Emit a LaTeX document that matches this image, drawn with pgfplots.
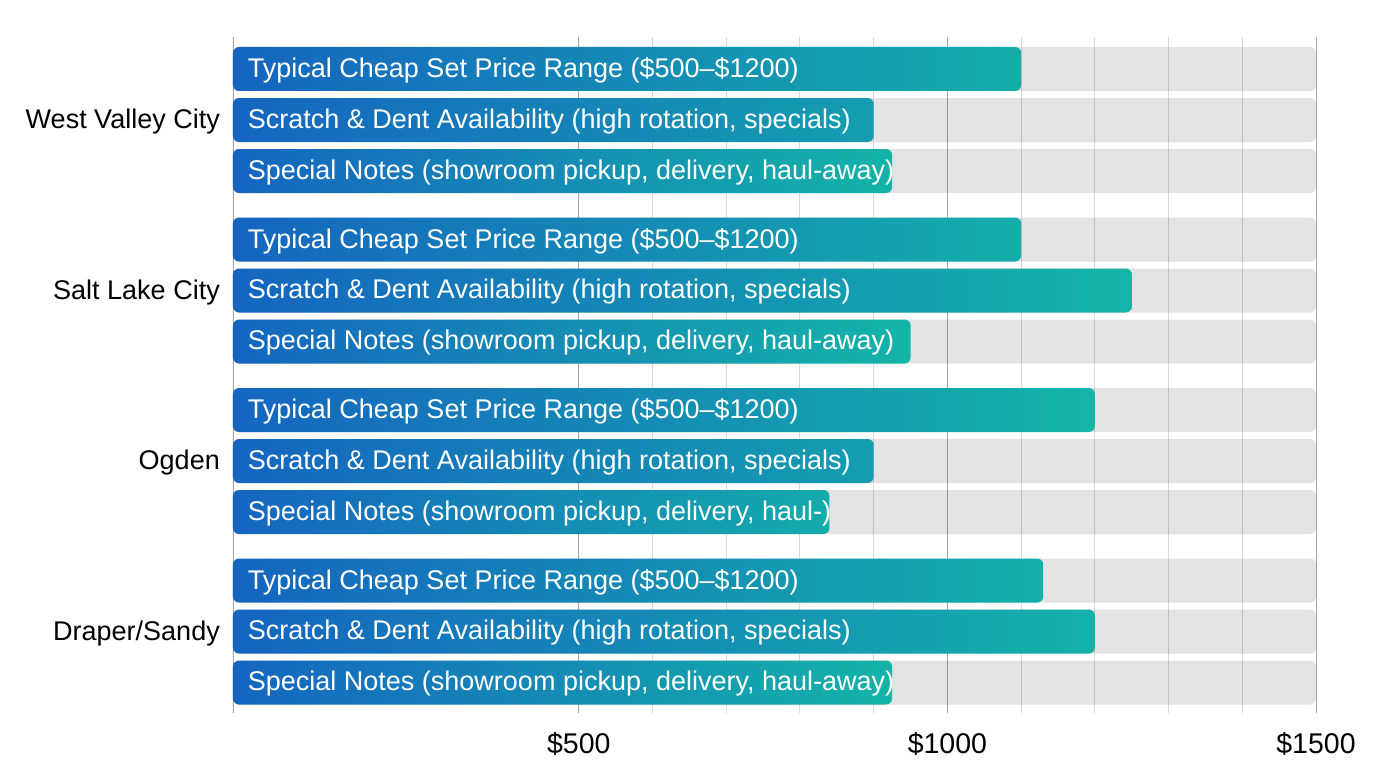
\documentclass[border=0pt]{standalone}
\usepackage{pgfplots}
\pgfplotsset{compat=1.18}
\usepackage{pgfplotstable}
\usepackage{fontspec}
\setmainfont{Liberation Sans}

\definecolor{barblue}{HTML}{1565C0}
\definecolor{barteal}{HTML}{14B5A8}

% y = bar centre (top to bottom), val = bar length in dollars
\pgfplotstableread{
y     val
69    1100
239.5 1100
410   1200
580.5 1130
}\typicaldata
\pgfplotstableread{
y     val
120   900
290.5 1250
461   900
631.5 1200
}\scratchdata
\pgfplotstableread{
y     val
171   925
341.5 950
512   840
682.5 925
}\notesdata

\begin{document}
\begin{tikzpicture}
\useasboundingbox (-233bp,-55bp) rectangle (1143bp,713bp);
\begin{axis}[
    at={(0,0)}, anchor=south west,
    scale only axis,
    width=1083bp, height=676bp,
    xmin=31, xmax=1500,
    ymin=37, ymax=713,
    y dir=reverse,
    axis line style={draw=none},
    major tick length=0pt, minor tick length=0pt,
    xtick={500,1000,1500},
    xticklabels={\$500,\$1000,\$1500},
    minor xtick={600,700,800,900,1100,1200,1300,1400},
    xmajorgrids=true, xminorgrids=true,
    major grid style={gray!70, line width=0.9pt},
    minor grid style={gray!30, line width=0.9pt},
    ytick={120,290.5,461,631.5},
    yticklabels={West Valley City,Salt Lake City,Ogden,Draper/Sandy},
    yticklabel style={font=\fontsize{27bp}{32bp}\selectfont, text=black,
        inner xsep=0pt, xshift=-13bp, yshift=-2bp},
    xticklabel style={font=\fontsize{28.5bp}{33bp}\selectfont, text=black,
        inner ysep=0pt, yshift=-19bp},
    bar width=44,
]
\draw[gray!70, line width=1.2pt] (axis cs:31,37) -- (axis cs:31,713);

% background tracks
\addplot[xbar, bar shift=0pt, draw=none, fill=black, fill opacity=0.11, rounded corners=6bp]
    coordinates {
        (1500,69) (1500,120) (1500,171)
        (1500,239.5) (1500,290.5) (1500,341.5)
        (1500,410) (1500,461) (1500,512)
        (1500,580.5) (1500,631.5) (1500,682.5)
    };

\addplot[xbar, bar shift=0pt, draw=none, left color=barblue, right color=barteal, rounded corners=6bp]
    table[x=val, y=y] {\typicaldata};
\addplot[xbar, bar shift=0pt, draw=none, left color=barblue, right color=barteal, rounded corners=6bp]
    table[x=val, y=y] {\scratchdata};
\addplot[xbar, bar shift=0pt, draw=none, left color=barblue, right color=barteal, rounded corners=6bp]
    table[x=val, y=y] {\notesdata};

\tikzset{lbl/.style={anchor=west, inner sep=0pt, yshift=-1.5bp, text=white, font=\fontsize{27bp}{32bp}\selectfont}}
\node[lbl] at (axis cs:51,69)    {Typical Cheap Set Price Range (\$500–\$1200)};
\node[lbl] at (axis cs:51,120)   {Scratch \& Dent Availability (high rotation, specials)};
\node[lbl] at (axis cs:51,171)   {Special Notes (showroom pickup, delivery, haul-away)};
\node[lbl] at (axis cs:51,239.5) {Typical Cheap Set Price Range (\$500–\$1200)};
\node[lbl] at (axis cs:51,290.5) {Scratch \& Dent Availability (high rotation, specials)};
\node[lbl] at (axis cs:51,341.5) {Special Notes (showroom pickup, delivery, haul-away)};
\node[lbl] at (axis cs:51,410)   {Typical Cheap Set Price Range (\$500–\$1200)};
\node[lbl] at (axis cs:51,461)   {Scratch \& Dent Availability (high rotation, specials)};
\node[lbl] at (axis cs:51,512)   {Special Notes (showroom pickup, delivery, haul-)};
\node[lbl] at (axis cs:51,580.5) {Typical Cheap Set Price Range (\$500–\$1200)};
\node[lbl] at (axis cs:51,631.5) {Scratch \& Dent Availability (high rotation, specials)};
\node[lbl] at (axis cs:51,682.5) {Special Notes (showroom pickup, delivery, haul-away)};
\end{axis}
\end{tikzpicture}
\end{document}
